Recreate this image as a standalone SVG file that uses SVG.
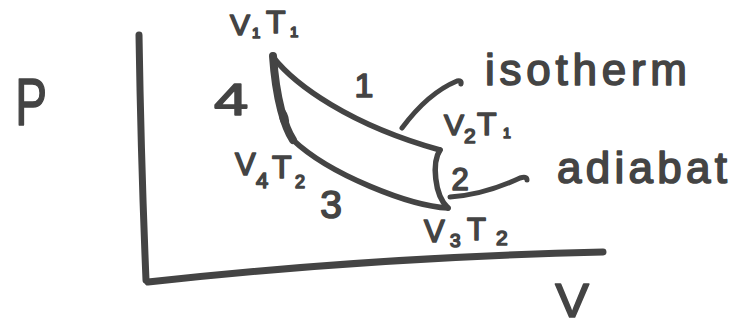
<svg xmlns="http://www.w3.org/2000/svg" width="738" height="327" viewBox="0 0 738 327">
<style>
.ln{fill:none;stroke:#444;stroke-linecap:round;stroke-linejoin:round}
.t{font-family:"Liberation Sans","DejaVu Sans",sans-serif;fill:#444;stroke:#444;stroke-width:1.6;stroke-linejoin:round}
</style>
<rect width="738" height="327" fill="#fff"/>
<g id="axes">
<path class="ln" stroke-width="7" d="M139,35 Q141,160 146,280"/>
<path class="ln" stroke-width="7" d="M148,282 Q376,257 603,252"/>
<text class="t" transform="translate(31,125) scale(0.72,1)" font-size="66" text-anchor="middle">P</text>
<text class="t" transform="translate(572,317) scale(1.1,1.06)" font-size="46" text-anchor="middle">V</text>
</g>
<g id="cycle">
<path id="isotherm1" class="ln" stroke-width="5.5" d="M273,57 C295,85 350,125 440,150"/>
<path id="adiabat2" class="ln" stroke-width="5.5" d="M440,150 C432,162 434,195 448,208"/>
<path id="isotherm3" class="ln" stroke-width="5.5" d="M448,208 C410,206 330,175 293,140"/>
<path id="adiabat4" class="ln" stroke-width="8" d="M293,140 C285,128 276,100 273,56"/>
<ellipse cx="284" cy="118" rx="4.5" ry="10" fill="#444" transform="rotate(-15 284 118)"/>
</g>
<g id="pointers">
<path class="ln" stroke-width="5" d="M402,128 Q428,93 457,81 Q462,80 461,84"/>
<path class="ln" stroke-width="5" d="M450,197 C480,195 505,185 520,178 Q527,176 527,180"/>
</g>
<g id="labels">
<text class="t"><tspan x="230" y="35" font-size="30">V</tspan><tspan x="252" y="38" font-size="15">1</tspan><tspan x="266" y="33" font-size="32">T</tspan><tspan x="290" y="37" font-size="15">1</tspan></text>
<text class="t"><tspan x="444" y="135" font-size="30">V</tspan><tspan x="464" y="143" font-size="21">2</tspan><tspan x="477" y="135" font-size="32">T</tspan><tspan x="503" y="138" font-size="14">1</tspan></text>
<text class="t"><tspan x="235" y="175" font-size="31">V</tspan><tspan x="256" y="188" font-size="22">4</tspan><tspan x="272" y="178" font-size="32">T</tspan><tspan x="295" y="188" font-size="18">2</tspan></text>
<text class="t"><tspan x="424" y="242" font-size="31">V</tspan><tspan x="450" y="247" font-size="19">3</tspan><tspan x="467" y="240" font-size="31">T</tspan><tspan x="496" y="245" font-size="21">2</tspan></text>
<text class="t" x="364" y="97" font-size="34" text-anchor="middle">1</text>
<text class="t" x="460" y="190" font-size="31" text-anchor="middle">2</text>
<text class="t" x="331" y="218" font-size="39" text-anchor="middle">3</text>
<text class="t" transform="translate(231,115) scale(1.4,1)" font-size="44" text-anchor="middle">4</text>
<text class="t" x="485" y="85" font-size="44" textLength="202" lengthAdjust="spacing">isotherm</text>
<text class="t" x="557" y="183" font-size="44" textLength="170" lengthAdjust="spacing">adiabat</text>
</g>
</svg>
